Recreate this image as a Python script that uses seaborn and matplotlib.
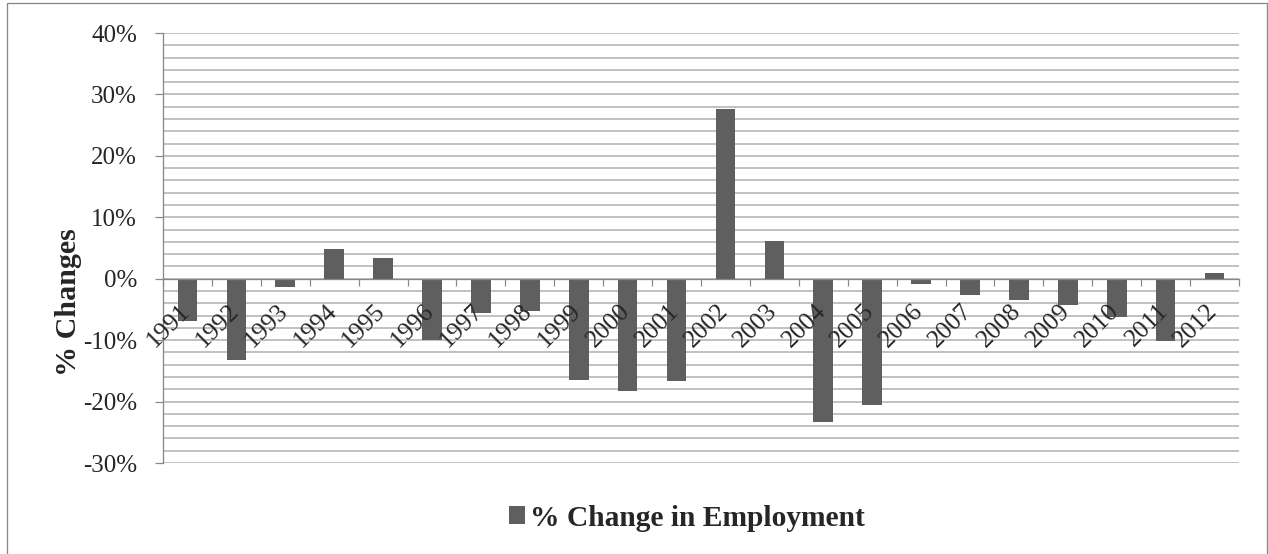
import matplotlib
matplotlib.use("Agg")
import matplotlib.pyplot as plt
import matplotlib.transforms as mtransforms
from matplotlib.patches import Patch, Rectangle
from matplotlib.ticker import MultipleLocator, FuncFormatter, FixedLocator
import seaborn as sns
import pandas as pd

# Annual % change in employment
years = [str(y) for y in range(1991, 2013)]
pct_change = [-6.9, -13.3, -1.3, 4.8, 3.4, -10.0, -5.5, -5.2, -16.5, -18.3, -16.7,
              27.6, 6.1, -23.3, -20.5, -0.9, -2.6, -3.5, -4.2, -6.3, -10.1, 1.0]
series_name = "% Change in Employment"
y_title = "% Changes"

sns.set_style("white")
plt.rcParams["font.family"] = ["Liberation Serif", "DejaVu Sans"]

BAR = "#5f5f5f"
GRID = "#b3b3b3"
AXIS = "#878787"

W, H, DPI = 1268, 554, 72
rect = [163 / W, 1 - 463 / H, (1239 - 163) / W, (463 - 33) / H]
fig = plt.figure(figsize=(W / DPI, H / DPI), dpi=DPI)
ax = fig.add_axes(rect)

df = pd.DataFrame({"year": years, "change": pct_change})
sns.barplot(data=df, x="year", y="change", color=BAR, saturation=1,
            width=0.4, ax=ax, edgecolor="none", linewidth=0)

ax.set_xlim(-0.5, len(years) - 0.5)
ax.set_ylim(-30, 40)

# y axis: major every 10%, gridlines every 2% (kept behind the bars)
ax.yaxis.set_major_locator(MultipleLocator(10))
ax.yaxis.set_minor_locator(MultipleLocator(2))
ax.yaxis.set_major_formatter(FuncFormatter(lambda v, _: f"{v:.0f}%"))
ax.grid(False)
ax.grid(True, which="both", axis="y", color=GRID, linewidth=1.6)
ax.set_axisbelow(True)
ax.tick_params(axis="y", which="major", direction="out", length=8, width=1.2,
               color=AXIS, labelsize=25, pad=18, left=True)
ax.tick_params(axis="y", which="minor", length=0)
for s in ("top", "right", "bottom"):
    ax.spines[s].set_visible(False)
ax.spines["left"].set_color(AXIS)
ax.spines["left"].set_linewidth(1.3)
ax.set_xlabel("")

# overlay axes carrying the category axis on the zero line, drawn above the bars
axx = fig.add_axes(rect, sharex=ax, sharey=ax, zorder=3)
axx.patch.set_visible(False)
axx.grid(False)
for s in ("top", "right", "left"):
    axx.spines[s].set_visible(False)
axx.spines["bottom"].set_position(("data", 0))
axx.spines["bottom"].set_color(AXIS)
axx.spines["bottom"].set_linewidth(1.3)
axx.tick_params(axis="y", which="both", left=False, labelleft=False)
axx.xaxis.set_major_locator(FixedLocator(range(len(years))))
axx.xaxis.set_minor_locator(FixedLocator([i - 0.5 for i in range(len(years) + 1)]))
axx.tick_params(axis="x", which="minor", direction="out", length=7, width=1.2,
                color=AXIS, bottom=True)
axx.tick_params(axis="x", which="major", length=0, pad=29, labelsize=25.5, bottom=True)
axx.set_xticklabels(years, rotation=45, ha="right", va="center",
                    rotation_mode="anchor")
shift = mtransforms.ScaledTranslation(-1 / DPI, 0, fig.dpi_scale_trans)
for lab in axx.get_xticklabels():
    lab.set_transform(lab.get_transform() + shift)

# the base axes shows no x ticks of its own
ax.tick_params(axis="x", which="both", bottom=False, labelbottom=False)

ax.set_ylabel(y_title, fontsize=30, fontweight="bold")
ax.yaxis.set_label_coords(-(163 - 82) / 1076, (463 - 302) / 430)

# legend below the plot
handle = Patch(facecolor=BAR, edgecolor="none", label=series_name)
fig.legend(handles=[handle], loc="center", bbox_to_anchor=(687 / W, 1 - 518 / H),
           frameon=False, prop={"size": 29.5, "weight": "bold"},
           handlelength=0.55, handleheight=0.55, handletextpad=0.15)

# chart frame
frame = Rectangle((7 / W, -0.05), (1267 - 7) / W, 1 - 3 / H + 0.05,
                  transform=fig.transFigure, fill=False, edgecolor=AXIS,
                  linewidth=1.3, clip_on=False)
fig.patches.append(frame)

fig.savefig("out.png", dpi=DPI, facecolor="white")
